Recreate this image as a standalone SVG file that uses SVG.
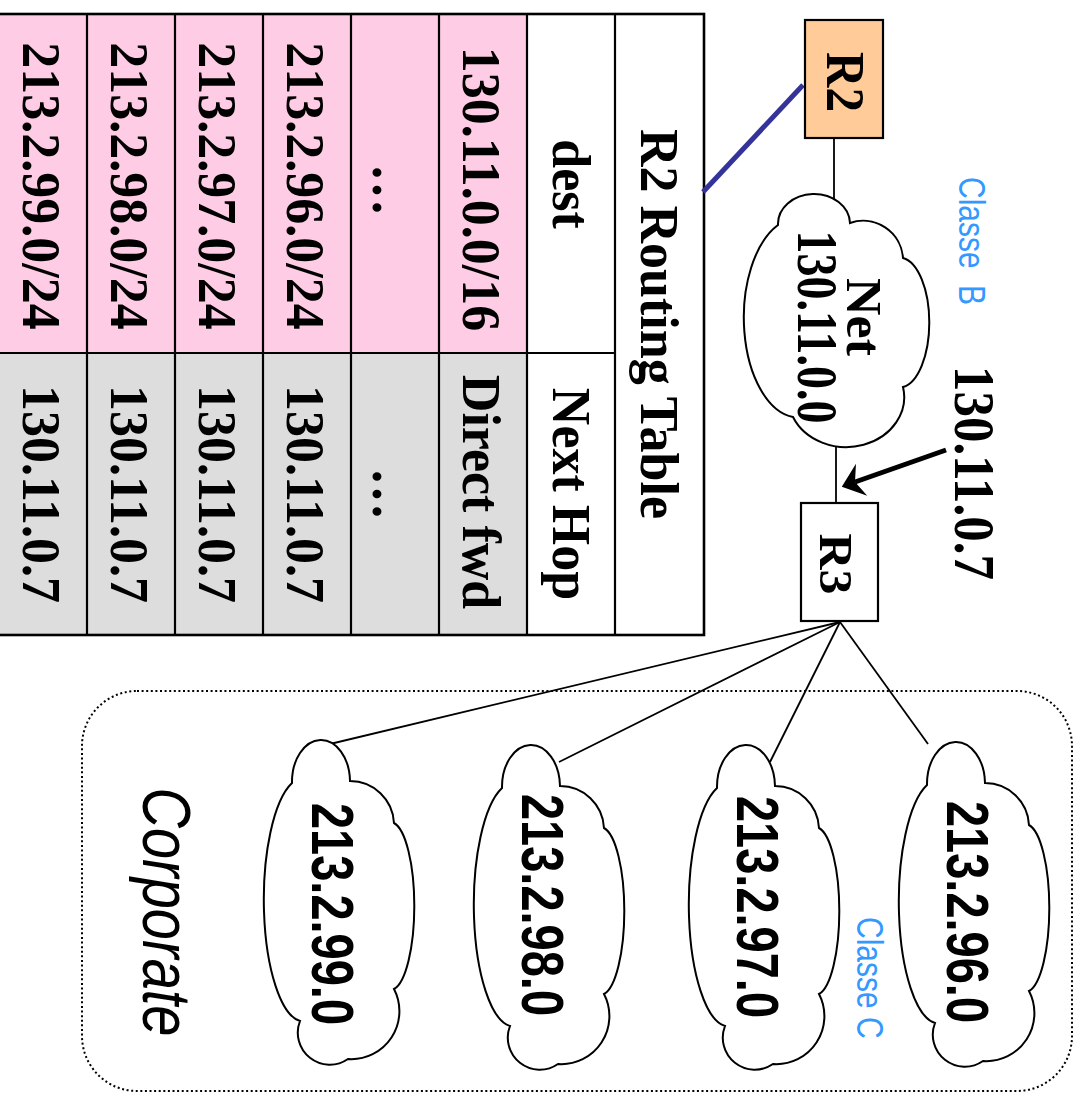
<svg xmlns="http://www.w3.org/2000/svg" xmlns:xlink="http://www.w3.org/1999/xlink" width="1077" height="1093" viewBox="0 0 1077 1093">
<style>
.t{font-family:"Liberation Serif","Times New Roman",serif;font-weight:bold;font-size:52px;text-anchor:middle;fill:#000}
.sn{font-family:"Liberation Sans",Arial,"DejaVu Sans",sans-serif;font-weight:700;font-size:47px;text-anchor:middle;fill:#000}
.corp{font-family:"Liberation Sans",Arial,"DejaVu Sans",sans-serif;font-style:italic;font-size:56px;text-anchor:middle;fill:#000}
.c{font-family:"Liberation Sans",Arial,sans-serif;font-size:30px;fill:#3399FF}
.grid{stroke:#000;stroke-width:2.2;fill:none}
.cloud{fill:#fff;stroke:#000;stroke-width:2}
.ln{stroke:#000;stroke-width:1.8;fill:none}
</style>
<defs>
<path id="cl" d="M34,42 A29,42 0 0 1 92,40 A44,44 0 0 1 136,82 A24,84 0 0 1 136,248 A48,48 0 0 1 90,318 A32,32 0 0 1 42,280 A40,122 0 0 1 34,42 Z"/>
<marker id="ah" markerUnits="userSpaceOnUse" markerWidth="40" markerHeight="40" refX="4" refY="0" orient="auto" overflow="visible">
<path d="M18,0 L-3,-17 L4,0 L-3,17 Z" fill="#000"/>
</marker>
</defs>
<rect width="1077" height="1093" fill="#fff"/>

<g id="corporate">
<rect x="82" y="691" width="990" height="400" rx="55" ry="55" fill="none" stroke="#000" stroke-width="2" stroke-dasharray="2 2.6"/>
<text class="corp" transform="translate(143,912) scale(1.24,1) rotate(90)">Corporate</text>
</g>

<g id="routing-table">
<rect x="0" y="14" width="527" height="339" fill="#FFCCE6"/>
<rect x="0" y="353" width="527" height="282" fill="#DDDDDD"/>
<rect x="527" y="14" width="177" height="621" fill="#fff"/>
<rect class="grid" x="-2" y="14" width="706" height="621" style="stroke-width:2.6"/>
<path class="grid" d="M87,14V635M175,14V635M263,14V635M351,14V635M439,14V635M527,14V635M615,14V635M0,353H615"/>
<text class="t" transform="translate(641,324) scale(1.05,1) rotate(90)">R2 Routing Table</text>
<text class="t" transform="translate(553,184) scale(1.05,1) rotate(90)">dest</text>
<text class="t" transform="translate(553,494) scale(1.05,1) rotate(90)">Next Hop</text>
<text class="t" transform="translate(463,189) scale(1.05,1) rotate(90)">130.11.0.0/16</text>
<text class="t" transform="translate(463,492) scale(1.05,1) rotate(90)">Direct fwd</text>
<text class="t" transform="translate(373,190) scale(1.05,1) rotate(90)">…</text>
<text class="t" transform="translate(373,494) scale(1.05,1) rotate(90)">…</text>
<text class="t" transform="translate(287,186) scale(1.05,1) rotate(90)">213.2.96.0/24</text>
<text class="t" transform="translate(287,494) scale(1.05,1) rotate(90)">130.11.0.7</text>
<text class="t" transform="translate(199,186) scale(1.05,1) rotate(90)">213.2.97.0/24</text>
<text class="t" transform="translate(199,494) scale(1.05,1) rotate(90)">130.11.0.7</text>
<text class="t" transform="translate(111,186) scale(1.05,1) rotate(90)">213.2.98.0/24</text>
<text class="t" transform="translate(111,494) scale(1.05,1) rotate(90)">130.11.0.7</text>
<text class="t" transform="translate(23,186) scale(1.05,1) rotate(90)">213.2.99.0/24</text>
<text class="t" transform="translate(23,494) scale(1.05,1) rotate(90)">130.11.0.7</text>
</g>

<g id="connectors">
<line x1="703" y1="192" x2="803" y2="85" stroke="#333399" stroke-width="5"/>
<line class="ln" x1="834" y1="138" x2="834" y2="200"/>
<line class="ln" x1="836" y1="446" x2="836" y2="503"/>
<line x1="946" y1="450" x2="855" y2="482" stroke="#000" stroke-width="5" marker-end="url(#ah)"/>
<line class="ln" x1="840" y1="622" x2="928" y2="744"/>
<line class="ln" x1="840" y1="622" x2="770" y2="762"/>
<line class="ln" x1="840" y1="622" x2="559" y2="762"/>
<line class="ln" x1="840" y1="622" x2="330" y2="744"/>
</g>

<g id="R2">
<rect x="805" y="20" width="78" height="118" fill="#FFCC99" stroke="#000" stroke-width="2.2"/>
<text class="t" style="font-size:49px" transform="translate(827,82) scale(1.1,1) rotate(90)">R2</text>
</g>

<g id="net-130-11">
<path class="cloud" d="M778,225 A36,30 0 0 1 850,223 A40,40 0 0 1 903,258 A30,65 0 0 1 903,387 A58,50 0 0 1 793,417 A55,100 0 0 1 778,225 Z"/>
<text class="t" transform="translate(847,317) scale(0.96,1) rotate(90)">Net</text>
<text class="t" style="font-size:46px" transform="translate(798,327) scale(1.25,1) rotate(90)">130.11.0.0</text>
</g>

<g id="R3">
<rect x="801" y="503" width="77" height="118" fill="#fff" stroke="#000" stroke-width="2.2"/>
<text class="t" style="font-size:50px" transform="translate(820,564) scale(0.95,1) rotate(90)">R3</text>
</g>

<g id="label-130-11-0-7">
<text class="t" style="font-size:51px" transform="translate(955,473) scale(1.1,1) rotate(90)">130.11.0.7</text>
</g>

<g id="classe-b">
<text class="c" word-spacing="8" transform="translate(959,177) scale(1.26,1) rotate(90)">Classe B</text>
</g>

<g id="net-213-2-96">
<use xlink:href="#cl" class="cloud" transform="translate(893,743)"/>
<text class="sn" font-family="Liberation Sans, sans-serif" transform="translate(947,912) scale(1.28,1) rotate(90)">213.2.96.0</text>
</g>
<g id="net-213-2-97">
<use xlink:href="#cl" class="cloud" transform="translate(683,746)"/>
<text class="sn" font-family="Liberation Sans, sans-serif" transform="translate(737,907) scale(1.28,1) rotate(90)">213.2.97.0</text>
</g>
<g id="net-213-2-98">
<use xlink:href="#cl" class="cloud" transform="translate(468,746)"/>
<text class="sn" font-family="Liberation Sans, sans-serif" transform="translate(522,905) scale(1.28,1) rotate(90)">213.2.98.0</text>
</g>
<g id="net-213-2-99">
<use xlink:href="#cl" class="cloud" transform="translate(258,741)"/>
<text class="sn" font-family="Liberation Sans, sans-serif" transform="translate(312,914) scale(1.28,1) rotate(90)">213.2.99.0</text>
</g>

<g id="classe-c">
<text class="c" transform="translate(857,917) scale(1.26,1) rotate(90)">Classe C</text>
</g>
</svg>
